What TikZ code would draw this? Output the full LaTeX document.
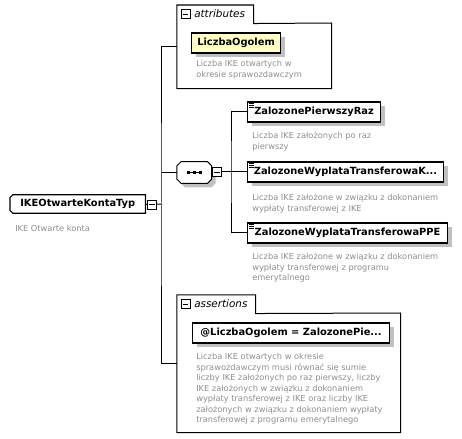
\documentclass[tikz,border=0pt]{standalone}
\usepackage{fontspec}
\setsansfont{DejaVu Sans}
\usepackage{xcolor}
\usetikzlibrary{positioning,fit,shadows}

\definecolor{descgray}{HTML}{8E8E8E}
\definecolor{shadowgray}{HTML}{C0C0C0}
\definecolor{attrfill}{HTML}{FFFFC4}

\begin{document}
\begin{tikzpicture}[x=0.75pt, y=-0.75pt, every node/.style={font=\sffamily},
  conn/.style={line width=0.75pt},
  shade/.style={copy shadow={shadow xshift=3pt, shadow yshift=-3pt, fill=shadowgray, draw=none}},
  elem/.style={draw, line width=0.8pt, fill=white, shade, anchor=west, inner sep=0pt, minimum height=15pt,
    font=\sffamily\bfseries\fontsize{7.4}{9}\selectfont,
    path picture={\foreach \k in {1,2,3}
      \draw[line width=0.3pt] ([xshift=1.1pt, yshift=-\k*1.25pt+0.2pt]path picture bounding box.north west) -- ++(3.8pt,0);}},
  attrbox/.style={draw, line width=0.8pt, fill=attrfill, shade, anchor=west, inner sep=0pt, minimum height=15pt,
    font=\sffamily\bfseries\fontsize{7.4}{9}\selectfont},
  rulebox/.style={draw, line width=0.8pt, fill=white, shade, anchor=west, inner sep=0pt, minimum height=15pt,
    font=\sffamily\bfseries\fontsize{7.4}{9}\selectfont},
  typebox/.style={anchor=west, inner sep=0pt, minimum height=13.5pt,
    font=\sffamily\bfseries\fontsize{7.4}{9}\selectfont},
  seqbox/.style={inner sep=0pt, minimum width=25.5pt, minimum height=15.75pt, anchor=west},
  minusbox/.style={draw, line width=0.6pt, fill=white, inner sep=0pt, minimum size=6.75pt,
    path picture={\draw[line width=0.6pt] ([xshift=-2.1pt]path picture bounding box.center) -- ([xshift=2.1pt]path picture bounding box.center);}},
  area/.style={inner sep=0pt, anchor=north west},
  group/.style={line width=0.75pt, fill=white},
  grouptitle/.style={anchor=west, inner sep=0pt, font=\sffamily\itshape\fontsize{7.8}{9}\selectfont},
  desc/.style={anchor=north west, inner sep=0pt, align=left, text=descgray, font=\sffamily\fontsize{6.2}{7.9}\selectfont}
]
\path[use as bounding box, fill=white] (0,0) rectangle (462,439);

% root type
\node[typebox, minimum width=101.25pt] (root) at (10,204) {};
\draw[line width=0.8pt, fill=white] ([xshift=2.2pt]root.north west) -- (root.north east) -- (root.south east)
  -- ([xshift=2.2pt]root.south west) -- ([yshift=2.2pt]root.south west) -- ([yshift=-2.2pt]root.north west) -- cycle;
\node[typebox, minimum width=101.25pt] (roottext) at (10,204) {IKEOtwarteKontaTyp};
\node[minusbox, anchor=west] (rootminus) at (147,204.5) {};
\node[desc] (rootdesc) at (15,225) {IKE Otwarte konta};

% attributes group
\node[area, minimum width=57pt, minimum height=13.5pt] (attrtab) at (177,5) {};
\node[area, minimum width=115.5pt, minimum height=48.75pt] (attrbody) at (177,23) {};
\node[fit=(attrtab)(attrbody), inner sep=0pt] (attr) {};
\draw[group] (attrbody.north west) -- (attrtab.north west) -- (attrtab.north east) -- (attrtab.south east)
  -- (attrbody.north east) -- (attrbody.south east) -- (attrbody.south west) -- cycle;
\node[minusbox] (attrminus) at (185.5,14) {};
\node[grouptitle] (attrtitle) at (194,14) {attributes};
\node[attrbox, minimum width=66.75pt] (liczba) at (191,43) {LiczbaOgolem};
\node[desc] (liczbadesc) at (196,60) {Liczba IKE otwartych w\\okresie sprawozdawczym};

% sequence
\node[seqbox] (seq) at (177,172.5) {};
\fill[shadowgray, transform canvas={shift={(3pt,-3pt)}}]
  ([xshift=3pt]seq.north west) -- ([xshift=-3pt]seq.north east) -- ([yshift=-3pt]seq.north east)
  -- ([yshift=3pt]seq.south east) -- ([xshift=-3pt]seq.south east) -- ([xshift=3pt]seq.south west)
  -- ([yshift=3pt]seq.south west) -- ([yshift=-3pt]seq.north west) -- cycle;
\draw[line width=0.75pt, fill=white]
  ([xshift=3pt]seq.north west) -- ([xshift=-3pt]seq.north east) -- ([yshift=-3pt]seq.north east)
  -- ([yshift=3pt]seq.south east) -- ([xshift=-3pt]seq.south east) -- ([xshift=3pt]seq.south west)
  -- ([yshift=3pt]seq.south west) -- ([yshift=-3pt]seq.north west) -- cycle;
\draw[line width=0.6pt] ([xshift=-5pt]seq.center) -- ([xshift=5pt]seq.center);
\foreach \dx in {-4.5pt,0pt,4.5pt}
  \fill ([xshift=\dx]seq.center) +(-1.1pt,-1.1pt) rectangle +(1.1pt,1.1pt);
\node[minusbox, anchor=west] (seqminus) at (212,172) {};

% child elements
\node[elem, minimum width=99.75pt] (pierwszy) at (247,112) {ZalozonePierwszyRaz};
\node[desc] (pierwszydesc) at (252,132) {Liczba IKE założonych po raz\\pierwszy};
\node[elem, minimum width=147pt] (transk) at (247,172) {ZalozoneWyplataTransferowaK...};
\node[desc] (transkdesc) at (252,194) {Liczba IKE założone w związku z dokonaniem\\wypłaty transferowej z IKE};
\node[elem, minimum width=150pt] (ppe) at (247,233) {ZalozoneWyplataTransferowaPPE};
\node[desc] (ppedesc) at (252,253) {Liczba IKE założone w związku z dokonaniem\\wypłaty transferowej z programu\\emerytalnego};

% assertions group
\node[area, minimum width=58.5pt, minimum height=13.5pt] (asserttab) at (177,295) {};
\node[area, minimum width=167.25pt, minimum height=89.25pt] (assertbody) at (177,313) {};
\node[fit=(asserttab)(assertbody), inner sep=0pt] (assert) {};
\draw[group] (assertbody.north west) -- (asserttab.north west) -- (asserttab.north east) -- (asserttab.south east)
  -- (assertbody.north east) -- (assertbody.south east) -- (assertbody.south west) -- cycle;
\node[minusbox] (assertminus) at (185.5,304) {};
\node[grouptitle] (asserttitle) at (194,304) {assertions};
\node[rulebox, minimum width=147.75pt] (rule) at (192,333) {@LiczbaOgolem = ZalozonePie...};
\node[desc] (ruledesc) at (196,353) {Liczba IKE otwartych w okresie\\sprawozdawczym musi równać się sumie\\liczby IKE założonych po raz pierwszy, liczby\\IKE założonych w związku z dokonaniem\\wypłaty transferowej z IKE oraz liczby IKE\\założonych w związku z dokonaniem wypłaty\\transferowej z programu emerytalnego};

% connectors
\coordinate (trunk) at (162,204);
\coordinate (bus) at (232,172);
\draw[conn] (root) -- (rootminus);
\draw[conn] (rootminus) -- (trunk);
\draw[conn] (attr.west) -| (trunk) |- (assert.west);
\draw[conn] (trunk |- seq.west) -- (seq.west);
\draw[conn] (seqminus) -- (bus);
\draw[conn] (pierwszy.west) -| (bus) |- (ppe.west);
\draw[conn] (bus) -- (transk.west);
\end{tikzpicture}
\end{document}
